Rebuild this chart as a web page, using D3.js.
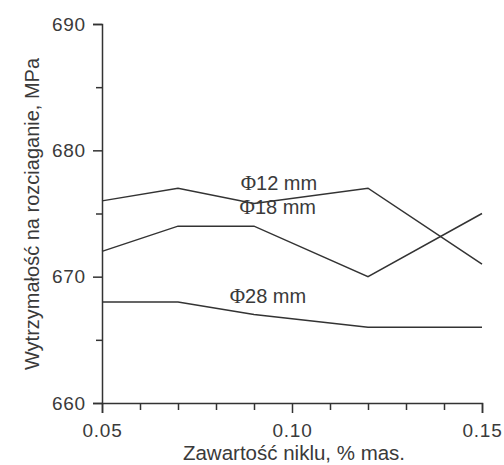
<!DOCTYPE html>
<html>
<head>
<meta charset="utf-8">
<script src="https://cdn.jsdelivr.net/npm/d3@7"></script>
<style>
  body { margin: 0; background: #fff; }
  text { font-family: "Liberation Sans", Arial, sans-serif; fill: #3a3a3a; }
</style>
</head>
<body>
<script>
// nickel content, % mass
var nickel = [0.05, 0.07, 0.09, 0.12, 0.15];
// tensile strength, MPa
var d12 = [676, 677, 675.8, 677, 671];
var d18 = [672, 674, 674, 670, 675];
var d28 = [668, 668, 667, 666, 666];
var seriesNames = ["12 mm", "18 mm", "28 mm"];

var xMajor = [0.05, 0.10, 0.15];
var xMinor = [0.06, 0.07, 0.08, 0.09, 0.11, 0.12, 0.13, 0.14];
var yMajor = [660, 670, 680, 690];
var yMinor = [665, 675, 685];

var width = 504, height = 465;
var margin = {top: 24, right: 22, bottom: 62, left: 102};

var svg = d3.select("body").append("svg")
    .attr("width", width)
    .attr("height", height);

var x = d3.scaleLinear().domain([0.05, 0.15]).range([margin.left, width - margin.right]);
var y = d3.scaleLinear().domain([660, 690]).range([height - margin.bottom, margin.top]);

var ink = "#333";

// x axis
var gx = svg.append("g").attr("transform", "translate(0," + (height - margin.bottom) + ")");
gx.call(d3.axisBottom(x).tickValues(xMajor).tickSize(10).tickPadding(11)
    .tickFormat(d3.format(".2f")));
gx.append("g").call(d3.axisBottom(x).tickValues(xMinor).tickSize(7).tickFormat(""));
gx.selectAll(".domain").filter(function (d, i) { return i > 0; }).remove();

// y axis
var gy = svg.append("g").attr("transform", "translate(" + margin.left + ",0)");
gy.call(d3.axisLeft(y).tickValues(yMajor).tickSize(9).tickPadding(7).tickFormat(d3.format("d")));
gy.append("g").call(d3.axisLeft(y).tickValues(yMinor).tickSize(6).tickFormat(""));
gy.selectAll(".domain").filter(function (d, i) { return i > 0; }).remove();

svg.selectAll(".domain").attr("stroke", ink).attr("stroke-width", 1.5);
svg.selectAll(".tick line").attr("stroke", ink).attr("stroke-width", 1.5);
svg.selectAll(".tick text")
    .style("font-family", "'Liberation Sans', Arial, sans-serif")
    .style("font-size", "19px")
    .style("letter-spacing", "0.8px")
    .attr("fill", "#3a3a3a");

// lines
var line = d3.line()
    .x(function (d, i) { return x(nickel[i]); })
    .y(function (d) { return y(d); });

[d12, d18, d28].forEach(function (s) {
    svg.append("path")
        .datum(s)
        .attr("fill", "none")
        .attr("stroke", ink)
        .attr("stroke-width", 1.5)
        .attr("d", line);
});

// series labels
var labels = [
    {name: seriesNames[0], x: 0.0865, y: 676.85},
    {name: seriesNames[1], x: 0.0862, y: 675.0},
    {name: seriesNames[2], x: 0.0836, y: 667.9}
];
labels.forEach(function (l) {
    var t = svg.append("text")
        .attr("x", x(l.x))
        .attr("y", y(l.y))
        .style("font-size", "20px");
    t.append("tspan")
        .style("font-family", "'Liberation Serif', 'DejaVu Serif', serif")
        .style("font-size", "21px")
        .text("\u03A6");
    t.append("tspan").text(l.name);
});

// axis titles
svg.append("text")
    .attr("x", x(0.10) + 2)
    .attr("y", 460)
    .attr("text-anchor", "middle")
    .style("font-size", "20.5px")
    .text("Zawartość niklu, % mas.");

svg.append("text")
    .attr("transform", "translate(39,214) rotate(-90)")
    .attr("text-anchor", "middle")
    .style("font-size", "20px")
    .text("Wytrzymałość na rozciaganie, MPa");
</script>
</body>
</html>
